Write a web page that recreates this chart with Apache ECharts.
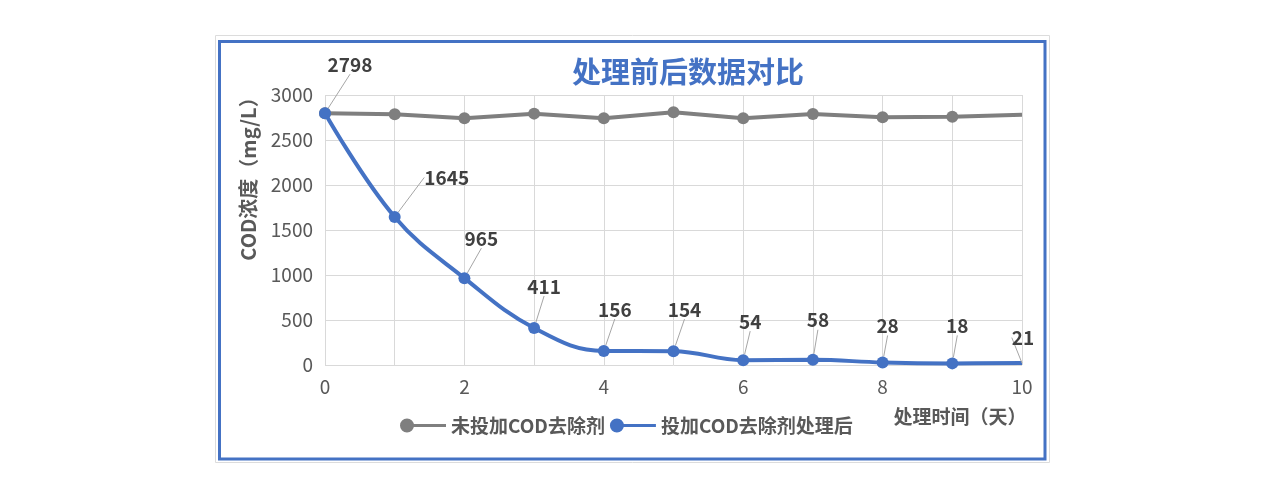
<!DOCTYPE html>
<html>
<head>
<meta charset="utf-8">
<script src="https://cdn.jsdelivr.net/npm/echarts@6/dist/echarts.min.js"></script>
<style>
html,body{margin:0;padding:0;background:#fff;}
#main{width:1267px;height:484px;}
</style>
</head>
<body>
<div id="main"></div>
<script>
// ---- data ----
const days = [0, 1, 2, 3, 4, 5, 6, 7, 8, 9, 10];
const untreated = [2798, 2785, 2741, 2793, 2741, 2808, 2741, 2789, 2752, 2759, 2781];
const treated = [2798, 1645, 965, 411, 156, 154, 54, 58, 28, 18, 21];
const seriesNames = ['未投加COD去除剂', '投加COD去除剂处理后'];
const titleText = '处理前后数据对比';
const yAxisTitle = 'COD浓度（mg/L）';
const xAxisTitle = '处理时间（天）';
const yTicks = [0, 500, 1000, 1500, 2000, 2500, 3000];
const xTickLabels = [0, 2, 4, 6, 8, 10];

// label offsets (layout only)
const labelDx = [25, 52, 17, 10, 11, 11, 7, 5, 5, 5, 1];
const labelDy = [-28, -19, -19, -21, -21, -21, -18, -19, -16, -17, -11];

const FONT = '"Noto Sans CJK SC", "Noto Sans", sans-serif';
const GRAY = '#7f7f7f';
const BLUE = '#4472C4';

function mk(vals) {
  return days.map((d, i) => {
    const item = { value: [d, vals[i]] };
    if (i === days.length - 1) item.symbolSize = 0;
    return item;
  });
}

const legendIcon = 'path://M0,7a7,7 0 1,1 14,0a7,7 0 1,1 -14,0Z M7,5.5H46V8.5H7Z';

const chart = echarts.init(document.getElementById('main'));
chart.setOption({
  animation: false,
  backgroundColor: '#fff',
  title: {
    text: titleText,
    left: 683, top: 52, textAlign: 'center',
    textStyle: { fontFamily: FONT, fontSize: 29, fontWeight: 'bold', color: BLUE }
  },
  grid: { left: 325, right: 245, top: 95, bottom: 119 },
  legend: {
    left: 400, top: 416, padding: 0,
    itemWidth: 46, itemHeight: 14, itemGap: 5,
    symbolKeepAspect: false,
    textStyle: { fontFamily: FONT, fontSize: 19, fontWeight: 'bold', color: '#595959' },
    data: [
      { name: seriesNames[0], icon: legendIcon, itemStyle: { color: GRAY, borderWidth: 0 } },
      { name: seriesNames[1], icon: legendIcon, itemStyle: { color: BLUE, borderWidth: 0 } }
    ]
  },
  xAxis: {
    type: 'value', min: 0, max: 10, interval: 1,
    axisLine: { show: false }, axisTick: { show: false },
    axisLabel: {
      margin: 12, fontFamily: FONT, fontSize: 19, color: '#595959',
      formatter: v => (xTickLabels.indexOf(v) >= 0 ? String(v) : '')
    },
    splitLine: { show: true, lineStyle: { color: '#d9d9d9', width: 1 } }
  },
  yAxis: {
    type: 'value', min: yTicks[0], max: yTicks[yTicks.length - 1], interval: 500,
    axisLine: { show: false }, axisTick: { show: false },
    axisLabel: { margin: 12, fontFamily: FONT, fontSize: 19, color: '#595959',
                 formatter: v => String(v) },
    splitLine: { show: true, lineStyle: { color: '#d9d9d9', width: 1 } }
  },
  graphic: [
    { type: 'rect', silent: true, shape: { x: 215.5, y: 35.5, width: 834, height: 427 },
      style: { fill: 'none', stroke: '#dcdcdc', lineWidth: 1 } },
    { type: 'rect', silent: true, shape: { x: 219.5, y: 41.5, width: 825.5, height: 417.5 },
      style: { fill: 'none', stroke: BLUE, lineWidth: 3 } },
    { type: 'text', silent: true, x: 248, y: 174, rotation: Math.PI / 2,
      style: { text: yAxisTitle, fill: '#595959', font: 'bold 20px ' + FONT,
               textAlign: 'center', textVerticalAlign: 'middle' } },
    { type: 'text', silent: true, x: 960, y: 417,
      style: { text: xAxisTitle, fill: '#595959', font: 'bold 19px ' + FONT,
               textAlign: 'center', textVerticalAlign: 'middle' } }
  ],
  series: [
    {
      name: seriesNames[0], type: 'line', data: mk(untreated),
      symbol: 'circle', symbolSize: 12,
      lineStyle: { color: GRAY, width: 4 }, itemStyle: { color: GRAY },
      z: 2
    },
    {
      name: seriesNames[1], type: 'line', data: mk(treated),
      smooth: 0.4,
      symbol: 'circle', symbolSize: 12,
      lineStyle: { color: BLUE, width: 4 }, itemStyle: { color: BLUE },
      label: {
        show: true, position: 'top',
        fontFamily: FONT, fontSize: 19, fontWeight: 'bold', color: '#404040',
        formatter: p => String(p.value[1])
      },
      labelLine: { show: true, lineStyle: { color: '#a6a6a6', width: 1 } },
      labelLayout: p => ({ dx: labelDx[p.dataIndex], dy: labelDy[p.dataIndex] }),
      z: 3
    }
  ]
});
</script>
</body>
</html>
